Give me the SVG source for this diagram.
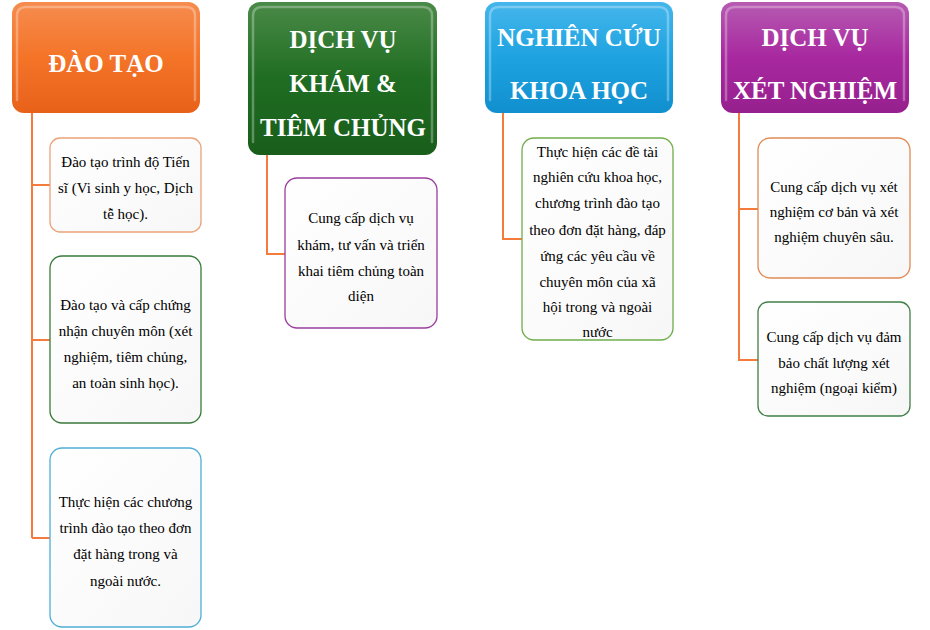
<svg xmlns="http://www.w3.org/2000/svg" width="930" height="630" viewBox="0 0 930 630">
<defs>
<linearGradient id="gOrange" x1="0" y1="0" x2="0" y2="1">
<stop offset="0" stop-color="#F68C4E"/><stop offset="0.5" stop-color="#F47428"/><stop offset="1" stop-color="#E8611A"/>
</linearGradient>
<linearGradient id="gGreen" x1="0" y1="0" x2="0" y2="1">
<stop offset="0" stop-color="#4A8A48"/><stop offset="0.5" stop-color="#1F6D22"/><stop offset="1" stop-color="#195E1B"/>
</linearGradient>
<linearGradient id="gBlue" x1="0" y1="0" x2="0" y2="1">
<stop offset="0" stop-color="#45B6EC"/><stop offset="0.5" stop-color="#1EA3E0"/><stop offset="1" stop-color="#118FCF"/>
</linearGradient>
<linearGradient id="gPurple" x1="0" y1="0" x2="0" y2="1">
<stop offset="0" stop-color="#B65BB2"/><stop offset="0.5" stop-color="#A8289F"/><stop offset="1" stop-color="#96208E"/>
</linearGradient>
<linearGradient id="gCard" x1="0" y1="0" x2="1" y2="1">
<stop offset="0" stop-color="#FFFFFF"/><stop offset="1" stop-color="#F7F7F7"/>
</linearGradient>
</defs>
<style>
.head{stroke:none}
.hl{fill:none;stroke:#FFFFFF;stroke-opacity:0.3;stroke-width:2.5;stroke-linecap:round}
.ht{font-family:"Liberation Serif","Times New Roman",serif;font-weight:bold;font-size:25px;fill:#FFFFFF;text-anchor:middle}
.card{fill:url(#gCard);stroke-width:1.3}
.ct{font-family:"Liberation Serif","Times New Roman",serif;font-size:15px;fill:#000000;text-anchor:middle}
.conn{fill:none;stroke:#F47B3C;stroke-width:2}
</style>
<g id="connectors">
<path class="conn" d="M32 113 V538 M32 185 H50 M32 340 H50 M32 538 H50"/>
<path class="conn" d="M267 155 V254 H285"/>
<path class="conn" d="M503 113 V239 H522"/>
<path class="conn" d="M739 113 V360 H758 M739 209 H758"/>
</g>
<g id="h1">
<rect class="head" x="12" y="2" width="188" height="111" rx="12" fill="url(#gOrange)"/>
<path class="hl" d="M17 100 V16 Q17 7 26 7 H186 Q195 7 195 16 V100"/>
<text class="ht" x="106" y="72">ĐÀO TẠO</text>
</g>
<g id="h2">
<rect class="head" x="248" y="2" width="189" height="153" rx="12" fill="url(#gGreen)"/>
<path class="hl" d="M253 142 V16 Q253 7 262 7 H423 Q432 7 432 16 V142"/>
<text class="ht" x="343" y="48">DỊCH VỤ</text>
<text class="ht" x="343" y="92">KHÁM &amp;</text>
<text class="ht" x="343" y="136">TIÊM CHỦNG</text>
</g>
<g id="h3">
<rect class="head" x="485" y="2" width="188" height="111" rx="12" fill="url(#gBlue)"/>
<path class="hl" d="M490 100 V16 Q490 7 499 7 H659 Q668 7 668 16 V100"/>
<text class="ht" x="579" y="46">NGHIÊN CỨU</text>
<text class="ht" x="579" y="99">KHOA HỌC</text>
</g>
<g id="h4">
<rect class="head" x="721" y="2" width="188" height="111" rx="12" fill="url(#gPurple)"/>
<path class="hl" d="M726 100 V16 Q726 7 735 7 H895 Q904 7 904 16 V100"/>
<text class="ht" x="815" y="46">DỊCH VỤ</text>
<text class="ht" x="815" y="99">XÉT NGHIỆM</text>
</g>
<g id="c1a">
<rect class="card" x="50" y="138" width="151" height="94" rx="10" stroke="#EBA27A"/>
<text class="ct" x="125.5" y="167">Đào tạo trình độ Tiến</text>
<text class="ct" x="125.5" y="193">sĩ (Vi sinh y học, Dịch</text>
<text class="ct" x="125.5" y="219">tễ học).</text>
</g>
<g id="c1b">
<rect class="card" x="50" y="256" width="151" height="167" rx="12" stroke="#3A7A3A"/>
<text class="ct" x="125.5" y="310">Đào tạo và cấp chứng</text>
<text class="ct" x="125.5" y="336">nhận chuyên môn (xét</text>
<text class="ct" x="125.5" y="362">nghiệm, tiêm chủng,</text>
<text class="ct" x="125.5" y="388">an toàn sinh học).</text>
</g>
<g id="c1c">
<rect class="card" x="50" y="448" width="151" height="179" rx="12" stroke="#4FAED6"/>
<text class="ct" x="125.5" y="507">Thực hiện các chương</text>
<text class="ct" x="125.5" y="533">trình đào tạo theo đơn</text>
<text class="ct" x="125.5" y="559">đặt hàng trong và</text>
<text class="ct" x="125.5" y="586">ngoài nước.</text>
</g>
<g id="c2">
<rect class="card" x="285" y="178" width="152" height="150" rx="12" stroke="#9A3C9E"/>
<text class="ct" x="361" y="223">Cung cấp dịch vụ</text>
<text class="ct" x="361" y="250">khám, tư vấn và triển</text>
<text class="ct" x="361" y="276">khai tiêm chủng toàn</text>
<text class="ct" x="361" y="301">diện</text>
</g>
<g id="c3">
<rect class="card" x="522" y="138" width="151" height="202" rx="12" stroke="#6FAE4B"/>
<text class="ct" x="597.5" y="157">Thực hiện các đề tài</text>
<text class="ct" x="597.5" y="182">nghiên cứu khoa học,</text>
<text class="ct" x="597.5" y="208">chương trình đào tạo</text>
<text class="ct" x="597.5" y="235">theo đơn đặt hàng, đáp</text>
<text class="ct" x="597.5" y="261">ứng các yêu cầu về</text>
<text class="ct" x="597.5" y="287">chuyên môn của xã</text>
<text class="ct" x="597.5" y="312">hội trong và ngoài</text>
<text class="ct" x="597.5" y="337">nước</text>
</g>
<g id="c4a">
<rect class="card" x="758" y="138" width="152" height="140" rx="12" stroke="#E08A55"/>
<text class="ct" x="834" y="192">Cung cấp dịch vụ xét</text>
<text class="ct" x="834" y="217">nghiệm cơ bản và xét</text>
<text class="ct" x="834" y="242">nghiệm chuyên sâu.</text>
</g>
<g id="c4b">
<rect class="card" x="758" y="302" width="152" height="114" rx="10" stroke="#3F7F45"/>
<text class="ct" x="834" y="342">Cung cấp dịch vụ đảm</text>
<text class="ct" x="834" y="368">bảo chất lượng xét</text>
<text class="ct" x="834" y="393">nghiệm (ngoại kiểm)</text>
</g>
</svg>
